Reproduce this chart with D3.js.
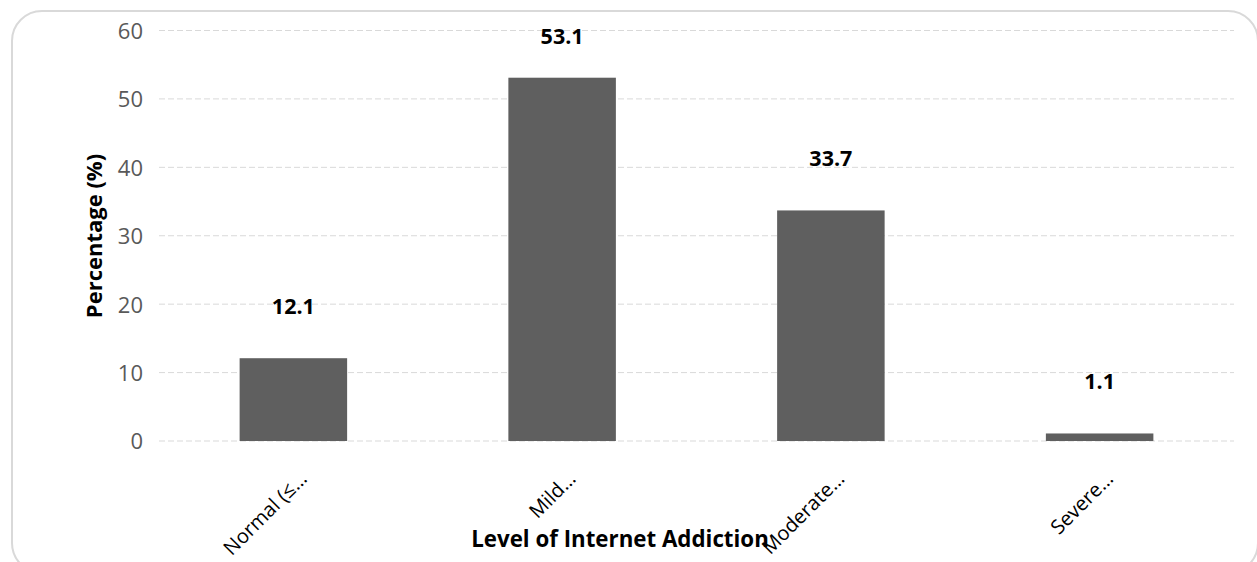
<!DOCTYPE html>
<html>
<head>
<meta charset="utf-8">
<script src="https://cdn.jsdelivr.net/npm/d3@7"></script>
<style>
  html, body { margin: 0; padding: 0; background: #fff; }
  svg { display: block; }
  text { font-family: "Open Sans", "Noto Sans", sans-serif; }
</style>
</head>
<body>
<svg id="chart" width="1257" height="562"></svg>
<script>
const categories = ["Normal (≤...", "Mild...", "Moderate...", "Severe..."];
const values = [12.1, 53.1, 33.7, 1.1];
const yTicks = [0, 10, 20, 30, 40, 50, 60];
const yTitle = "Percentage (%)";
const xTitle = "Level of Internet Addiction";

const svg = d3.select("#chart");

// outer frame
svg.append("rect")
  .attr("x", 12).attr("y", 11)
  .attr("width", 1246).attr("height", 562)
  .attr("rx", 30).attr("ry", 30)
  .attr("fill", "#fff")
  .attr("stroke", "#d9d9d9")
  .attr("stroke-width", 2);

const plot = { left: 159, right: 1234, top: 30.5, bottom: 441 };

const x = d3.scaleBand()
  .domain(categories)
  .range([plot.left, plot.right])
  .paddingInner(0.6)
  .paddingOuter(0.3);

const y = d3.scaleLinear()
  .domain([0, 60])
  .range([plot.bottom, plot.top]);

// gridlines
svg.append("g")
  .selectAll("line")
  .data(yTicks)
  .join("line")
  .attr("x1", plot.left).attr("x2", plot.right)
  .attr("y1", d => y(d)).attr("y2", d => y(d))
  .attr("stroke", "#d9d9d9")
  .attr("stroke-width", 1)
  .attr("stroke-dasharray", "6,3");

// y axis tick labels
const yAxis = d3.axisLeft(y).tickValues(yTicks).tickSize(0).tickPadding(0);
const yg = svg.append("g")
  .attr("transform", `translate(${plot.left - 16},0)`)
  .call(yAxis);
yg.select(".domain").remove();
yg.selectAll("text")
  .attr("fill", "#595959")
  .style("font-size", "22px")
  .style("font-family", "'Open Sans', sans-serif")
  .attr("dy", "0.36em");

// bars
svg.append("g")
  .selectAll("rect")
  .data(values)
  .join("rect")
  .attr("x", (d, i) => x(categories[i]))
  .attr("width", x.bandwidth())
  .attr("y", d => y(d))
  .attr("height", d => y(0) - y(d))
  .attr("fill", "#5f5f5f");

// value labels
svg.append("g")
  .selectAll("text")
  .data(values)
  .join("text")
  .attr("x", (d, i) => x(categories[i]) + x.bandwidth() / 2)
  .attr("y", d => Math.max(y(d) - 44, 44))
  .attr("text-anchor", "middle")
  .attr("font-weight", "bold")
  .attr("font-size", "21.5px")
  .attr("fill", "#000")
  .text(d => d.toFixed(1));

// category labels (rotated)
const xAxis = d3.axisBottom(x).tickSize(0).tickPadding(0);
const xg = svg.append("g")
  .attr("transform", `translate(0,${plot.bottom})`)
  .call(xAxis);
xg.select(".domain").remove();
xg.selectAll("text")
  .attr("text-anchor", "end")
  .attr("fill", "#000")
  .style("font-size", "20px")
  .style("font-family", "'Open Sans', sans-serif")
  .attr("transform", "translate(10,34) rotate(-45)")
  .attr("dy", "0.35em")
  .attr("y", 0);

// axis titles
svg.append("text")
  .attr("transform", `translate(102,236) rotate(-90)`)
  .attr("text-anchor", "middle")
  .attr("font-weight", "bold")
  .attr("font-size", "22px")
  .attr("fill", "#000")
  .text(yTitle);

svg.append("text")
  .attr("x", 620)
  .attr("y", 547)
  .attr("text-anchor", "middle")
  .attr("font-weight", "bold")
  .attr("font-size", "22.3px")
  .attr("fill", "#000")
  .text(xTitle);
</script>
</body>
</html>
